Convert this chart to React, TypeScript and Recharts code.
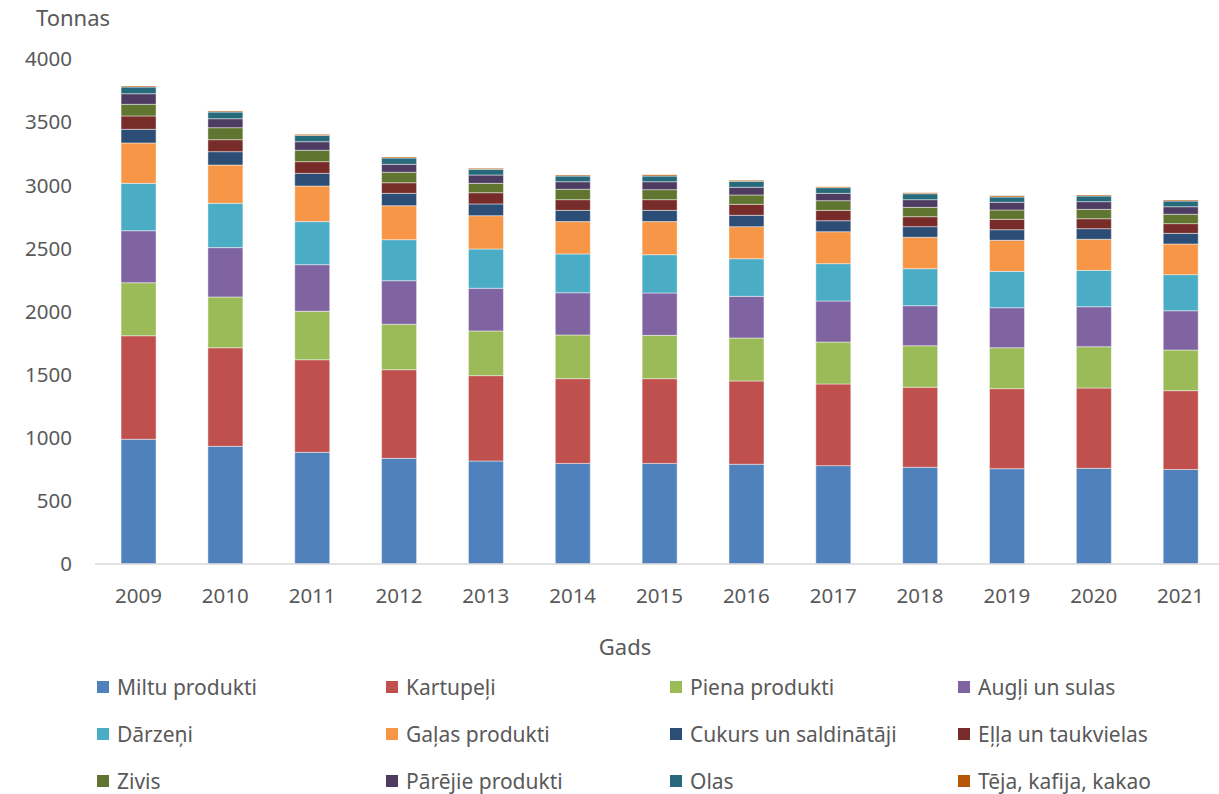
import React from 'react';
import { BarChart, Bar, XAxis, YAxis, Legend } from 'recharts';

const years = ['2009','2010','2011','2012','2013','2014','2015','2016','2017','2018','2019','2020','2021'];
const miltu = [988, 932, 885, 837, 816, 797, 797, 790, 779, 766, 755, 758, 749];
const kartupeli = [820, 781, 733, 702, 676, 671, 671, 660, 647, 634, 634, 636, 624];
const piena = [420, 402, 384, 360, 354, 346, 343, 340, 332, 329, 324, 327, 322];
const augli = [412, 391, 369, 345, 338, 335, 336, 330, 325, 317, 317, 317, 311];
const darzeni = [375, 351, 341, 325, 311, 307, 303, 298, 296, 293, 288, 288, 286];
const galas = [320, 303, 282, 269, 264, 256, 262, 254, 253, 249, 246, 246, 243];
const cukurs = [108, 106, 100, 98, 93, 89, 89, 90, 87, 84, 84, 84, 84];
const ella = [106, 95, 93, 84, 89, 85, 85, 87, 82, 79, 82, 79, 77];
const zivis = [92, 95, 90, 83, 74, 82, 79, 74, 77, 74, 74, 74, 74];
const parejie = [84, 71, 68, 63, 66, 60, 63, 61, 58, 61, 61, 61, 60];
const olas = [53, 53, 50, 50, 45, 45, 45, 47, 45, 47, 42, 45, 45];
const teja = [8, 8, 8, 8, 8, 8, 10, 8, 8, 7, 9, 8, 8];
const yTicks = [0, 500, 1000, 1500, 2000, 2500, 3000, 3500, 4000];

const series = [
  { key: 'miltu', name: 'Miltu produkti', values: miltu, color: '#4F81BD' },
  { key: 'kartupeli', name: 'Kartupeļi', values: kartupeli, color: '#C0504D' },
  { key: 'piena', name: 'Piena produkti', values: piena, color: '#9BBB59' },
  { key: 'augli', name: 'Augļi un sulas', values: augli, color: '#8064A2' },
  { key: 'darzeni', name: 'Dārzeņi', values: darzeni, color: '#4BACC6' },
  { key: 'galas', name: 'Gaļas produkti', values: galas, color: '#F79646' },
  { key: 'cukurs', name: 'Cukurs un saldinātāji', values: cukurs, color: '#2C4D75' },
  { key: 'ella', name: 'Eļļa un taukvielas', values: ella, color: '#772C2A' },
  { key: 'zivis', name: 'Zivis', values: zivis, color: '#5F7530' },
  { key: 'parejie', name: 'Pārējie produkti', values: parejie, color: '#4D3B62' },
  { key: 'olas', name: 'Olas', values: olas, color: '#276A7C' },
  { key: 'teja', name: 'Tēja, kafija, kakao', values: teja, color: '#B65708' },
];

const data = years.map((y, i) => {
  const row: Record<string, string | number> = { year: y };
  series.forEach((s) => { row[s.key] = s.values[i]; });
  return row;
});

const FONT = '"Noto Sans", sans-serif';
const TEXT = '#595959';
const colX = [97, 386, 670, 958];
const rowY = [687, 734, 781];

const renderLegend = () => (
  <div style={{ position: 'relative', width: 1219, height: 124 }}>
    {series.map((s, i) => {
      const c = i % 4;
      const r = Math.floor(i / 4);
      return (
        <div key={s.key} style={{ position: 'absolute', left: colX[c], top: rowY[r] - 670 - 12, height: 24, display: 'flex', alignItems: 'center', whiteSpace: 'nowrap' }}>
          <span style={{ display: 'inline-block', width: 12, height: 12, background: s.color, marginRight: 8 }} />
          <span style={{ fontFamily: FONT, fontSize: 21, color: TEXT }}>{s.name}</span>
        </div>
      );
    })}
  </div>
);

export default function App() {
  return (
    <div style={{ position: 'absolute', left: 0, top: 0, width: 1219, height: 794, overflow: 'hidden', background: '#fff' }}>
      <BarChart width={1230} height={794} data={data} margin={{ top: 59, right: 6, bottom: 76, left: 0 }} barCategoryGap="30%">
        <XAxis dataKey="year" height={30} axisLine={{ stroke: '#D9D9D9', strokeWidth: 1.5 }} tickLine={false} tickSize={0} tickMargin={24}
          tick={{ fill: TEXT, fontSize: 20.5, fontFamily: FONT }} interval={0} />
        <YAxis width={95} domain={[0, 4000]} ticks={yTicks} axisLine={false} tickLine={false} tickSize={0} tickMargin={23}
          tick={{ fill: TEXT, fontSize: 20.5, fontFamily: FONT }} interval={0} />
        {series.map((s) => (
          <Bar key={s.key} dataKey={s.key} name={s.name} stackId="a" fill={s.color} stroke="#ffffff" strokeOpacity={0.45} strokeWidth={1} isAnimationActive={false} />
        ))}
        <Legend content={renderLegend} wrapperStyle={{ position: 'absolute', left: 0, top: 670, width: 1219, height: 124 }} />
      </BarChart>
      <div style={{ position: 'absolute', left: 36, top: 3, fontFamily: FONT, fontSize: 22, color: TEXT, lineHeight: '28px' }}>Tonnas</div>
      <div style={{ position: 'absolute', left: 525, width: 200, textAlign: 'center', top: 632, fontFamily: FONT, fontSize: 22, color: TEXT, lineHeight: '28px' }}>Gads</div>
    </div>
  );
}
